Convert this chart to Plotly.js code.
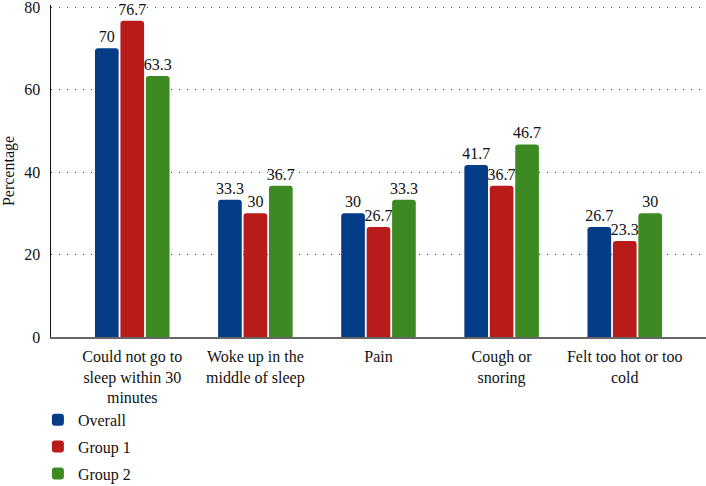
<!DOCTYPE html>
<html>
<head>
<meta charset="utf-8">
<script src="https://cdn.plot.ly/plotly-3.0.1.min.js"></script>
<style>html,body{margin:0;padding:0;background:#fff;}#chart{width:706px;height:486px;}</style>
</head>
<body>
<div id="chart"></div>
<script>
const categories = [
  "Could not go to<br>sleep within 30<br>minutes",
  "Woke up in the<br>middle of sleep",
  "Pain",
  "Cough or<br>snoring",
  "Felt too hot or too<br>cold"
];
const seriesNames = ["Overall", "Group 1", "Group 2"];
const overall = [70, 33.3, 30, 41.7, 26.7];
const group1 = [76.7, 30, 26.7, 36.7, 23.3];
const group2 = [63.3, 36.7, 33.3, 46.7, 30];
const colors = ["#043c88", "#b91b1b", "#3d8a23"];
const yTicks = [0, 20, 40, 60, 80];

const font = "Liberation Serif";
const allSeries = [overall, group1, group2];
const traces = allSeries.map((vals, i) => ({
  type: "bar",
  name: seriesNames[i],
  legendgroup: "g" + i,
  x: categories,
  y: vals,
  text: vals.map(v => String(v)),
  textposition: "outside",
  constraintext: "none",
  cliponaxis: false,
  textfont: {family: font, size: 16, color: "#111"},
  marker: {color: colors[i], line: {width: 0}},
  hoverinfo: "none"
}));

const layout = {
  width: 706, height: 486,
  margin: {l: 51, r: 0, t: 5, b: 149, autoexpand: false},
  paper_bgcolor: "#fff", plot_bgcolor: "#fff",
  font: {family: font, size: 16, color: "#111"},
  barmode: "group",
  bargap: 0.38,
  bargroupgap: 0.07,
  barcornerradius: 3,
  showlegend: true,
  uniformtext: {mode: false},
  legend: {
    x: -0.02, xanchor: "left", yref: "container", y: 0.171, yanchor: "top",
    orientation: "v", traceorder: "grouped",
    font: {family: font, size: 16, color: "#111"},
    itemwidth: 30, tracegroupgap: 3
  },
  xaxis: {
    type: "category",
    range: [-0.66, 4.66],
    showline: true, linecolor: "#666", linewidth: 1.5,
    showgrid: false, ticks: "", zeroline: false,
    ticklabelstandoff: 4,
    tickfont: {family: font, size: 16, color: "#111"},
    automargin: false
  },
  yaxis: {
    range: [0, 80.5],
    tickvals: yTicks,
    ticktext: yTicks.map(String),
    ticklabeloverflow: "allow",
    showline: true, linecolor: "#111", linewidth: 1.5,
    showgrid: true, gridcolor: "#444", griddash: "1px,7px", gridwidth: 1,
    zeroline: false, ticks: "",
    ticklabelstandoff: 6,
    tickfont: {family: font, size: 16, color: "#111"},
    title: {text: "Percentage", font: {family: font, size: 16, color: "#111"}, standoff: 6},
    automargin: false
  }
};

Plotly.newPlot("chart", traces, layout, {displayModeBar: false, staticPlot: true});
</script>
</body>
</html>
